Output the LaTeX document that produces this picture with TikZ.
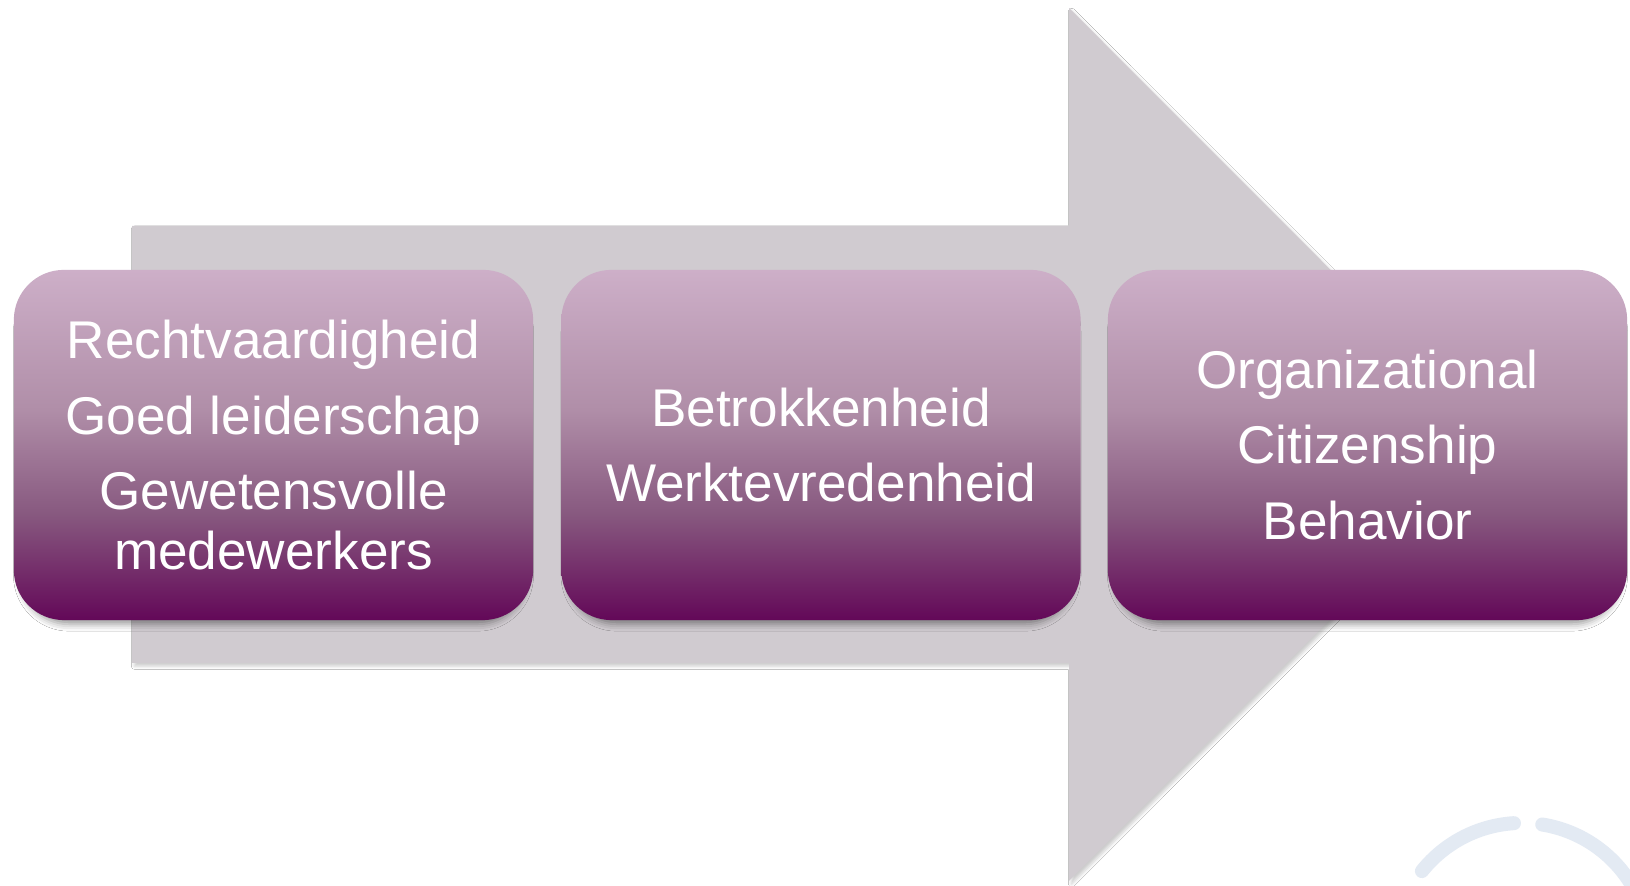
\documentclass[tikz,border=0pt]{standalone}
\usepackage{fontspec}
\setmainfont{Liberation Sans}
\usetikzlibrary{shadows.blur}

\definecolor{arrowgray}{HTML}{D0CBD0}
\definecolor{boxlight}{HTML}{CDAFC8}
\definecolor{boxmidA}{HTML}{B08EA8}
\definecolor{boxmidB}{HTML}{87587F}
\definecolor{boxdark}{HTML}{630858}
\definecolor{logoblue}{HTML}{E3EAF3}

% light lilac at the top, deep purple at the bottom
\pgfdeclareverticalshading{stageshade}{100bp}{%
  color(0bp)=(boxdark); color(25bp)=(boxdark);
  color(40bp)=(boxmidB); color(55bp)=(boxmidA);
  color(75bp)=(boxlight); color(100bp)=(boxlight)}

\tikzset{
  stagebox/.style={
    rectangle, rounded corners=0.5cm,
    minimum width=5.19cm, minimum height=3.5cm,
    shading=stageshade,
    blur shadow={shadow xshift=0pt, shadow yshift=-2.5pt, shadow scale=0.975,
                 shadow blur radius=2pt, shadow opacity=40},
    text=white, align=center,
    font=\fontsize{15.1pt}{17pt}\selectfont},
  bigarrow/.style={
    fill=arrowgray,
    blur shadow={shadow xshift=0.7pt, shadow yshift=-0.9pt,
                 shadow blur radius=0.9pt, shadow opacity=20}},
  logoarc/.style={draw=logoblue, line width=0.14cm, line cap=round}
}

\begin{document}
\begin{tikzpicture}[x=0.01cm, y=0.01cm]
  \clip (0,0) rectangle (1630,886);
  \fill[white] (0,0) rectangle (1630,886);

  % broad arrow behind the three stages
  \coordinate (shaftTL) at (132,660);
  \coordinate (headTop) at (1069,878);
  \coordinate (tip) at (1505,441.5);
  \fill[bigarrow] (132,223) -- (shaftTL) -- (1069,660) -- (headTop)
    -- (tip) -- (1069,5) -- (1069,223) -- cycle;

  % stages
  \node[stagebox] (s1) at (273.5,441)
    {Rechtvaardigheid\\[4.5pt]Goed leiderschap\\[4.5pt]Gewetensvolle\\medewerkers};
  \node[stagebox] (s2) at (821,441)
    {Betrokkenheid\\[4.5pt]Werktevredenheid};
  \node[stagebox] (s3) at (1367.5,441)
    {Organizational\\[4.5pt]Citizenship\\[4.5pt]Behavior};

  % faint ring in the lower right corner
  \coordinate (ring) at (1522,-65);
  \draw[logoarc] (ring) ++(141.4:1.28cm) arc[start angle=141.4, end angle=93.6, radius=1.28cm];
  \draw[logoarc] (ring) ++(80.9:1.28cm) arc[start angle=80.9, end angle=25, radius=1.28cm];
\end{tikzpicture}
\end{document}
